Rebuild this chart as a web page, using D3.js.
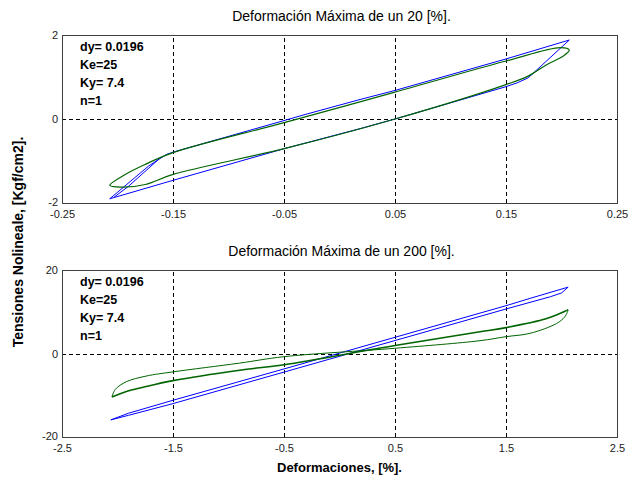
<!DOCTYPE html>
<html>
<head>
<meta charset="utf-8">
<script src="https://cdn.jsdelivr.net/npm/d3@7"></script>
<style>
  body { margin: 0; background: #fff; }
  svg { display: block; font-family: "Liberation Sans", Arial, sans-serif; }
</style>
</head>
<body>
<div id="chart"></div>
<script>
(function(d3) {

  'use strict';

  // ---- data ----
  var topTitle = 'Deformación Máxima de un 20 [%].';
  var bottomTitle = 'Deformación Máxima de un 200 [%].';
  var xLabel = 'Deformaciones, [%].';
  var yLabel = 'Tensiones Nolineale, [Kgf/cm2].';
  var notes = ['dy= 0.0196', 'Ke=25', 'Ky= 7.4', 'n=1'];

  var topXTicks = [-0.25, -0.15, -0.05, 0.05, 0.15, 0.25];
  var topXLabels = ['-0.25', '-0.15', '-0.05', '0.05', '0.15', '0.25'];
  var topYTicks = [-2, 0, 2];
  var topYLabels = ['-2', '0', '2'];

  var bottomXTicks = [-2.5, -1.5, -0.5, 0.5, 1.5, 2.5];
  var bottomXLabels = ['-2.5', '-1.5', '-0.5', '0.5', '1.5', '2.5'];
  var bottomYTicks = [-20, 0, 20];
  var bottomYLabels = ['-20', '0', '20'];

  // 20 % case
  var blueTop = [
    [-0.207, -1.90], [-0.15, -1.46], [-0.049, -0.70], [0.0185, -0.23], [0.05, 0.0],
    [0.15, 0.77], [0.160, 0.86], [0.170, 0.98], [0.207, 1.88], [0.15, 1.43],
    [0.05, 0.68], [0.0185, 0.464], [-0.031, 0.107], [-0.049, -0.03], [-0.15, -0.79],
    [-0.156, -0.845], [-0.172, -1.12], [-0.207, -1.90]
  ];
  var blueTopInner = [[-0.203, -1.86], [-0.19, -1.60], [-0.163, -0.96]];
  var greenTop = [
    [0.207, 1.64], [0.199, 1.70], [0.15, 1.38], [0.05, 0.64], [-0.049, -0.08],
    [-0.15, -0.80], [-0.175, -1.08], [-0.193, -1.32], [-0.207, -1.58], [-0.196, -1.62],
    [-0.175, -1.56], [-0.15, -1.32], [-0.049, -0.70], [0.05, 0.0], [0.15, 0.82],
    [0.170, 1.02], [0.187, 1.30], [0.2016, 1.50]
  ];

  // 200 % case
  var blueBottom = [
    [-2.06, -15.9], [-1.9, -14.8], [-1.5, -12.0], [-0.5, -4.45], [0.5, 3.11],
    [1.5, 10.66], [1.9, 13.6], [2.0, 14.5], [2.06, 15.9], [1.716, 13.2],
    [1.5, 11.45], [0.5, 3.88], [-0.5, -3.7], [-1.5, -11.2], [-1.9, -14.3], [-2.06, -15.9]
  ];
  var greenBottomThin = [
    [-2.05, -10.4], [-2.02, -8.6], [-1.92, -6.75], [-1.74, -5.4], [-1.5, -4.4],
    [-0.9, -2.3], [-0.5, -0.76], [0.5, 1.25], [1.266, 3.07], [1.5, 4.03],
    [1.716, 4.83], [1.956, 7.2], [2.03, 8.8], [2.06, 10.4]
  ];
  var greenBottomThick = [
    [-2.05, -10.4], [-1.92, -9.1], [-1.77, -8.1], [-1.5, -6.5], [-0.9, -4.0],
    [-0.5, -2.7], [0.5, 1.92], [1.266, 5.2], [1.5, 6.2], [1.86, 8.3],
    [2.03, 10.1], [2.06, 10.5]
  ];

  var Panel = function(svg, options) {
    this.svg = svg;
    this.options = options;
    this.g = null;
    this.x = null;
    this.y = null;
  };

  Panel.prototype = {

    init: function() {
      this.setScales();
      this.g = this.svg.append('g');
      this.drawGrid();
      this.drawCurves();
      this.drawFrame();
      this.drawAxes();
      this.drawNotes();
      this.drawTitle();
    },

    setScales: function() {
      var o = this.options;
      this.x = d3.scaleLinear().domain(o.xDomain).range([o.left, o.right]);
      this.y = d3.scaleLinear().domain(o.yDomain).range([o.bottom, o.top]);
    },

    drawGrid: function() {
      var o = this.options;
      var innerX = o.xTicks.slice(1, -1);
      var innerY = o.yTicks.slice(1, -1);

      this.g.append('g')
        .attr('transform', 'translate(0,' + o.bottom + ')')
        .call(d3.axisBottom(this.x).tickValues(innerX).tickSize(o.top - o.bottom).tickFormat(''))
        .call(this.styleGrid);

      this.g.append('g')
        .attr('transform', 'translate(' + o.left + ',0)')
        .call(d3.axisLeft(this.y).tickValues(innerY).tickSize(o.left - o.right).tickFormat(''))
        .call(this.styleGrid);
    },

    styleGrid: function(sel) {
      sel.select('.domain').remove();
      sel.selectAll('line')
        .attr('stroke', '#000')
        .attr('stroke-width', 1)
        .attr('stroke-dasharray', '4,3')
        .attr('shape-rendering', 'crispEdges');
    },

    drawCurves: function() {
      var x = this.x, y = this.y;
      this.options.curves.forEach(function(c) {
        var line = d3.line()
          .x(function(d) { return x(d[0]); })
          .y(function(d) { return y(d[1]); })
          .curve(c.curve || d3.curveLinear);
        this.g.append('path')
          .datum(c.data)
          .attr('d', line)
          .attr('fill', 'none')
          .attr('stroke', c.color)
          .attr('stroke-width', c.width || 1)
          .attr('stroke-linejoin', 'round');
      }.bind(this));
    },

    drawFrame: function() {
      var o = this.options;
      this.g.append('rect')
        .attr('x', o.left)
        .attr('y', o.top)
        .attr('width', o.right - o.left)
        .attr('height', o.bottom - o.top)
        .attr('fill', 'none')
        .attr('stroke', '#404040')
        .attr('stroke-width', 1)
        .attr('shape-rendering', 'crispEdges');
    },

    drawAxes: function() {
      var o = this.options;

      var xAxis = this.g.append('g')
        .attr('transform', 'translate(0,' + o.bottom + ')')
        .call(d3.axisBottom(this.x).tickValues(o.xTicks).tickSize(0).tickPadding(7)
          .tickFormat(function(d, i) { return o.xLabels[i]; }));

      var yAxis = this.g.append('g')
        .attr('transform', 'translate(' + o.left + ',0)')
        .call(d3.axisLeft(this.y).tickValues(o.yTicks).tickSize(0).tickPadding(4)
          .tickFormat(function(d, i) { return o.yLabels[i]; }));

      // the lowest y label sits a little higher, clear of the x labels
      yAxis.selectAll('.tick')
        .filter(function(d, i) { return i === 0; })
        .select('text')
        .attr('dy', '0.2em');

      [xAxis, yAxis].forEach(function(a) {
        a.select('.domain').remove();
        a.selectAll('text')
          .attr('fill', '#222')
          .style('font-size', '11px')
          .style('font-family', '"Liberation Sans", Arial, sans-serif');
      });
    },

    drawNotes: function() {
      var o = this.options;
      this.g.selectAll('text.note')
        .data(notes)
        .enter()
        .append('text')
        .attr('class', 'note')
        .attr('x', o.left + 18)
        .attr('y', function(d, i) { return o.top + 16 + i * 18; })
        .attr('fill', '#000')
        .style('font-size', '12.5px')
        .style('font-weight', 'bold')
        .text(function(d) { return d; });
    },

    drawTitle: function() {
      var o = this.options;
      this.g.append('text')
        .attr('x', (o.left + o.right) / 2 + 2)
        .attr('y', o.top - 14)
        .attr('text-anchor', 'middle')
        .attr('fill', '#000')
        .style('font-size', '14px')
        .text(o.title);
    }

  };

  var svg = d3.select('#chart')
    .append('svg')
    .attr('width', 629)
    .attr('height', 480);

  svg.append('rect')
    .attr('width', 629)
    .attr('height', 480)
    .attr('fill', '#fff');

  var blue = '#0000ff', green = '#006400';
  var smooth = d3.curveCatmullRom.alpha(0.5);

  new Panel(svg, {
    left: 62, right: 617, top: 35, bottom: 203,
    xDomain: [-0.25, 0.25], yDomain: [-2, 2],
    xTicks: topXTicks, xLabels: topXLabels,
    yTicks: topYTicks, yLabels: topYLabels,
    title: topTitle,
    curves: [
      { data: blueTop, color: blue },
      { data: blueTopInner, color: blue },
      { data: greenTop, color: green, curve: d3.curveCatmullRomClosed.alpha(0.5), width: 1.2 }
    ]
  }).init();

  new Panel(svg, {
    left: 62, right: 617, top: 270, bottom: 437,
    xDomain: [-2.5, 2.5], yDomain: [-20, 20],
    xTicks: bottomXTicks, xLabels: bottomXLabels,
    yTicks: bottomYTicks, yLabels: bottomYLabels,
    title: bottomTitle,
    curves: [
      { data: blueBottom, color: blue },
      { data: greenBottomThin, color: green, curve: smooth, width: 1 },
      { data: greenBottomThick, color: green, curve: smooth, width: 1.6 }
    ]
  }).init();

  svg.append('text')
    .attr('x', 339.5)
    .attr('y', 472)
    .attr('text-anchor', 'middle')
    .attr('fill', '#000')
    .style('font-size', '13px')
    .style('font-weight', 'bold')
    .text(xLabel);

  svg.append('text')
    .attr('transform', 'translate(23,242) rotate(-90)')
    .attr('text-anchor', 'middle')
    .attr('fill', '#000')
    .style('font-size', '14px')
    .style('font-weight', 'bold')
    .text(yLabel);

})(d3);
</script>
</body>
</html>
